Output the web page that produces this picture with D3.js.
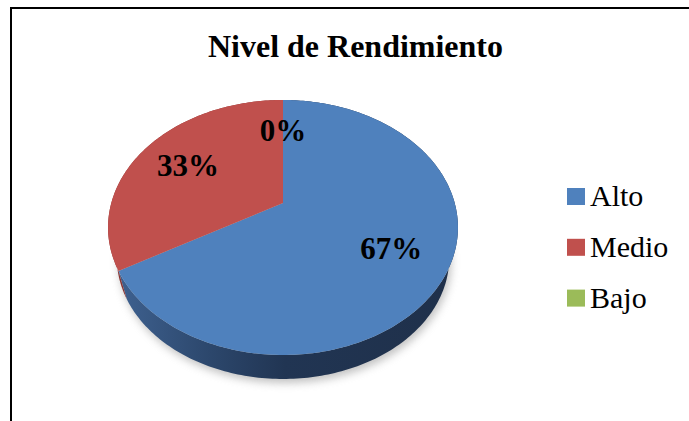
<!DOCTYPE html>
<html>
<head>
<meta charset="utf-8">
<script src="https://cdn.jsdelivr.net/npm/d3@7"></script>
<style>
  body { margin: 0; background: #fff; }
  svg { display: block; }
</style>
</head>
<body>
<svg id="chart" width="689" height="421"></svg>
<script>
// data
var categories = ['Alto', 'Medio', 'Bajo'];
var values = [2, 1, 0];
var percentLabels = ['67%', '33%', '0%'];
var colors = ['#4F81BD', '#C0504D', '#9BBB59'];
var sideColors = ['#2b4569', '#8a3533', '#6f8a3c'];

var svg = d3.select('#chart');
var W = 689, H = 421;

// frame of the chart area (goes past right and bottom edge)
svg.append('rect')
  .attr('x', 11).attr('y', 8)
  .attr('width', W + 20).attr('height', H + 20)
  .attr('fill', '#fff')
  .attr('stroke', '#000')
  .attr('stroke-width', 2);

svg.append('text')
  .attr('x', 355.5).attr('y', 57)
  .attr('text-anchor', 'middle')
  .attr('font-family', '"Liberation Serif", "Times New Roman", serif')
  .attr('font-weight', 'bold')
  .attr('font-size', 31)
  .attr('textLength', 295)
  .attr('lengthAdjust', 'spacingAndGlyphs')
  .text('Nivel de Rendimiento');

// perspective-ish projection of the pie disk
var cx = 283, cy = 203, A = 171.7, B = 122.8, k = -0.192;
// bottom face: a bit smaller (farther away) and lower
var botScale = 0.95, botDrop = 31.6;

function proj(theta, r, bottom) {
  var s = bottom ? botScale : 1;
  var u = Math.sin(theta) * r, v = -Math.cos(theta) * r;
  var d = 1 + k * v;
  return [cx + A * s * u / d, cy + B * s * v / d + (bottom ? botDrop : 0)];
}

function arcPoints(a0, a1, bottom) {
  var pts = [];
  var n = Math.max(2, Math.ceil((a1 - a0) / (Math.PI / 180)));
  for (var i = 0; i <= n; i++) {
    pts.push(proj(a0 + (a1 - a0) * i / n, 1, bottom));
  }
  return pts;
}

var pie = d3.pie().sort(null).value(function(d) { return d; });
var arcs = pie(values);

var line = d3.line();

var defs = svg.append('defs');
var grad = defs.append('linearGradient')
  .attr('id', 'sideBlue')
  .attr('gradientUnits', 'userSpaceOnUse')
  .attr('x1', 115).attr('y1', 0).attr('x2', 455).attr('y2', 0);
grad.append('stop').attr('offset', '0%').attr('stop-color', '#3f6291');
grad.append('stop').attr('offset', '28%').attr('stop-color', '#2c476c');
grad.append('stop').attr('offset', '50%').attr('stop-color', '#213553');
grad.append('stop').attr('offset', '100%').attr('stop-color', '#1f304a');

var blur = defs.append('filter').attr('id', 'shadow')
  .attr('x', '-20%').attr('y', '-20%').attr('width', '140%').attr('height', '140%');
blur.append('feGaussianBlur').attr('stdDeviation', 4);

// soft shadow under the pie
var full = arcPoints(0, 2 * Math.PI, true).map(function(p) { return [p[0] + 2, p[1] + 4]; });
svg.append('path')
  .attr('d', line(full) + 'Z')
  .attr('fill', '#a0a0a0')
  .attr('opacity', 0.65)
  .attr('filter', 'url(#shadow)');

// sides
svg.append('g').selectAll('path')
  .data(arcs)
  .join('path')
  .attr('d', function(d) {
    if (d.endAngle - d.startAngle <= 0) return null;
    var top = arcPoints(d.startAngle, d.endAngle, false);
    var bot = arcPoints(d.startAngle, d.endAngle, true).reverse();
    return line(top.concat(bot)) + 'Z';
  })
  .attr('fill', function(d, i) { return i === 0 ? 'url(#sideBlue)' : sideColors[i]; });

// top faces
svg.append('g').selectAll('path')
  .data(arcs)
  .join('path')
  .attr('d', function(d) {
    if (d.endAngle - d.startAngle <= 0) return null;
    var pts = [proj(0, 0, false)].concat(arcPoints(d.startAngle, d.endAngle, false));
    return line(pts) + 'Z';
  })
  .attr('fill', function(d, i) { return colors[i]; });

// percentage labels
svg.append('g').selectAll('text')
  .data(arcs)
  .join('text')
  .attr('x', function(d) { return proj((d.startAngle + d.endAngle) / 2, 0.68, false)[0]; })
  .attr('y', function(d) { return proj((d.startAngle + d.endAngle) / 2, 0.68, false)[1]; })
  .attr('dy', '0.38em')
  .attr('text-anchor', 'middle')
  .attr('font-family', '"Liberation Serif", "Times New Roman", serif')
  .attr('font-weight', 'bold')
  .attr('font-size', 31)
  .text(function(d, i) { return percentLabels[i]; });

// legend
var legend = svg.append('g').selectAll('g')
  .data(categories)
  .join('g')
  .attr('transform', function(d, i) { return 'translate(567,' + (188 + i * 50.8) + ')'; });
legend.append('rect')
  .attr('width', 18).attr('height', 17)
  .attr('fill', function(d, i) { return colors[i]; });
legend.append('text')
  .attr('x', 23).attr('y', 18)
  .attr('font-family', '"Liberation Serif", "Times New Roman", serif')
  .attr('font-size', 30)
  .text(function(d) { return d; });
</script>
</body>
</html>
